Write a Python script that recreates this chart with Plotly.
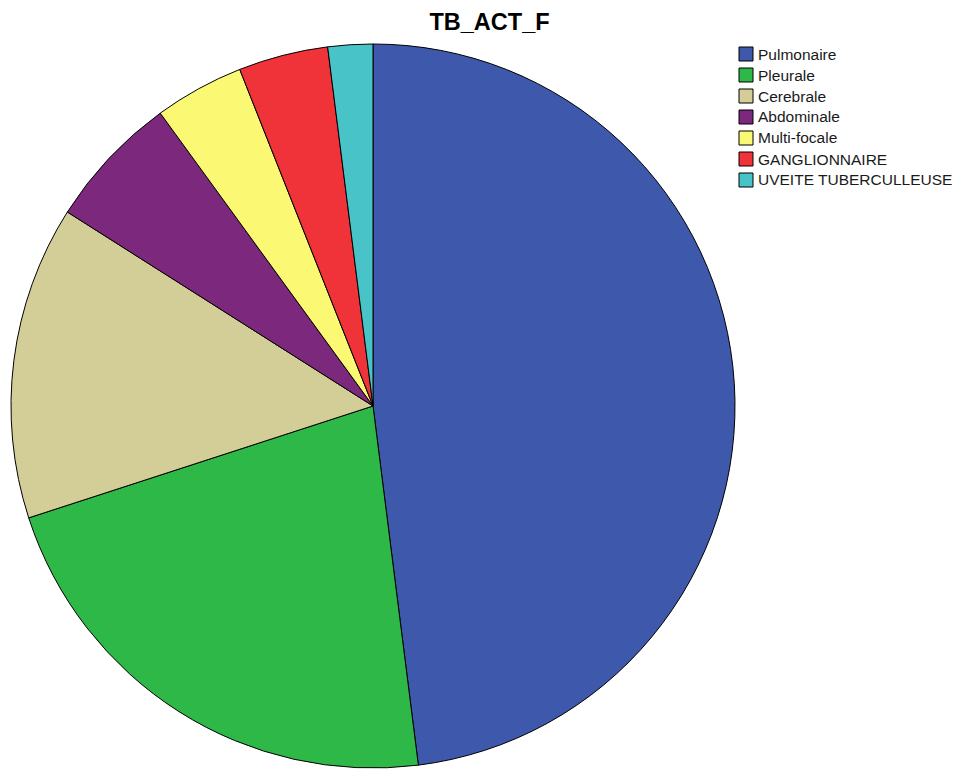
import plotly.graph_objects as go

# Active TB localisation (TB_ACT_F), counts per category
labels = ["Pulmonaire", "Pleurale", "Cerebrale", "Abdominale",
          "Multi-focale", "GANGLIONNAIRE", "UVEITE TUBERCULLEUSE"]
counts = [24, 11, 7, 3, 2, 2, 1]
colors = ["#3E58AC", "#2EB848", "#D3CE97", "#7C287D",
          "#FBF873", "#EF3338", "#48C4C8"]

W, H = 955, 772
FONT = "Liberation Sans, Arial, sans-serif"

fig = go.Figure(go.Pie(
    labels=labels,
    values=counts,
    sort=False,
    direction="clockwise",
    rotation=0,
    textinfo="none",
    hoverinfo="label+value+percent",
    showlegend=False,
    marker=dict(colors=colors, line=dict(color="#000000", width=1)),
    domain=dict(x=[11 / W, 735 / W], y=[1 - 768 / H, 1 - 44 / H]),
))

# Legend block: square swatches with labels, one row per category
lx, ly, sw, step = 739, 47, 14, 21
shapes, notes = [], []
for i, (lab, col) in enumerate(zip(labels, colors)):
    y0 = ly + i * step
    shapes.append(dict(type="rect", xref="paper", yref="paper",
                       x0=lx / W, x1=(lx + sw) / W,
                       y0=1 - (y0 + sw) / H, y1=1 - y0 / H,
                       fillcolor=col, line=dict(color="#000", width=1)))
    notes.append(dict(text=lab, xref="paper", yref="paper",
                      x=(lx + sw + 3) / W, y=1 - (y0 + sw / 2) / H,
                      xanchor="left", yanchor="middle", showarrow=False,
                      font=dict(family=FONT, size=15.5, color="#1a1a1a")))

fig.update_layout(
    width=W, height=H,
    margin=dict(l=0, r=0, t=0, b=0),
    paper_bgcolor="white",
    plot_bgcolor="white",
    title=dict(text="<b>TB_ACT_F</b>", x=489.5 / W, xanchor="center",
               y=1 - 22 / H, yanchor="middle",
               font=dict(family=FONT, size=23.5, color="#000")),
    shapes=shapes,
    annotations=notes,
    showlegend=False,
)

fig.write_html("out.html")
